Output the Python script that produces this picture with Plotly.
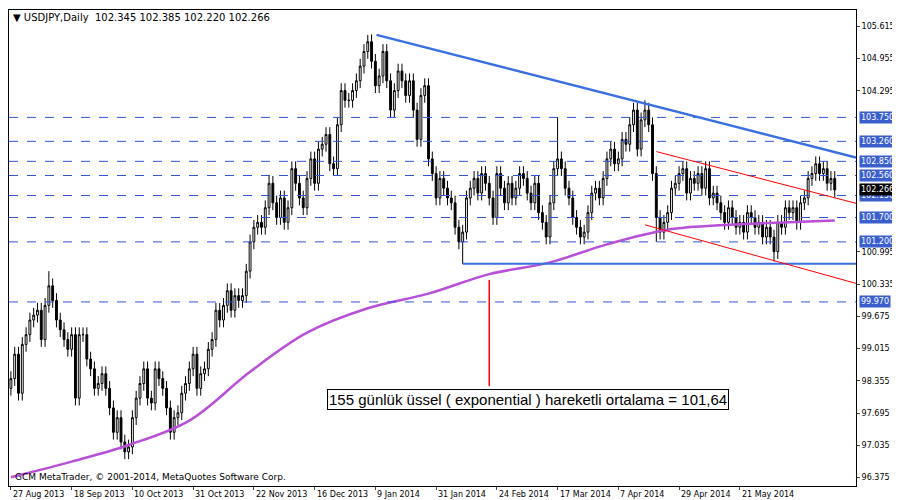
import plotly.graph_objects as go

# daily closes, USDJPY
closes = [
    98.4, 98.9, 98.1, 99.1, 99.3, 99.6, 99.7, 99.8, 99.2, 99.9,
    100.3, 100.0, 99.6, 99.4, 99.2, 99.0, 99.3, 98.0, 99.3, 99.3,
    98.8, 98.6, 98.2, 98.3, 98.5, 98.2, 97.8, 97.3, 97.6, 97.1,
    96.9, 97.0, 97.6, 98.0, 98.3, 98.6, 98.0, 97.9, 98.6, 98.4,
    98.2, 97.8, 97.3, 97.6, 97.7, 98.1, 98.3, 98.6, 98.9, 98.2,
    98.5, 98.6, 99.0, 99.2, 99.8, 99.6, 99.9, 100.2, 99.8, 100.1,
    100.0, 100.1, 100.6, 101.2, 101.5, 101.6, 101.5, 101.9, 102.4, 102.0,
    101.7, 102.1, 101.6, 101.9, 102.7, 102.4, 102.1, 101.9, 102.5, 102.9,
    102.4, 103.1, 103.2, 103.4, 102.8, 102.7, 103.6, 104.3, 104.1, 104.1,
    104.3, 104.5, 104.8, 105.1, 105.3, 104.9, 104.4, 104.6, 105.1, 104.5,
    103.9, 104.3, 104.7, 104.5, 104.2, 104.5, 103.9, 103.3, 104.2, 104.4,
    102.9, 102.6, 102.1, 102.5, 102.3, 102.1, 102.0, 101.5, 101.2, 101.4,
    102.1, 102.3, 102.5, 102.2, 102.6, 102.4, 102.1, 101.7, 102.6, 102.3,
    102.0, 102.4, 102.1, 102.3, 102.6, 102.5, 102.2, 102.0, 102.4, 101.8,
    101.6, 101.3, 102.0, 102.7, 102.9, 102.7, 102.3, 102.1, 101.7, 101.5,
    101.3, 101.4, 101.8, 102.2, 102.3, 102.1, 102.5, 102.9, 103.1, 102.8,
    102.9, 103.3, 103.2, 103.6, 103.9, 103.1, 103.7, 103.9, 103.6, 102.6,
    101.7, 101.4, 101.6, 101.8, 102.3, 102.4, 102.6, 102.7, 102.2, 102.5,
    102.4, 102.6, 102.3, 102.7, 102.1, 102.2, 102.0, 101.8, 101.6, 101.9,
    101.7, 101.5, 101.6, 101.4, 101.8, 101.7, 101.5, 101.6, 101.3, 101.5,
    101.3, 101.0, 101.6, 101.5, 101.9, 101.8, 101.9, 101.6, 102.0, 102.1,
    102.5, 102.6, 102.8, 102.6, 102.7, 102.4, 102.5, 102.266,
]
first_open = 98.2
wick = 0.15
# notable extremes (bar index: price)
high_marks = {10: 100.6, 94: 105.44, 144: 103.75, 167: 104.1, 212: 102.95}
low_marks = {30: 96.75, 119: 100.75, 201: 100.8, 170: 101.2}

# 155 EMA, read at a few bars
ema_x = [0, 16, 31, 47, 63, 78, 94, 110, 126, 142, 157, 173, 189, 205, 217]
ema_y = [96.38, 96.7, 97.04, 97.54, 98.54, 99.34, 99.84, 100.14, 100.54, 100.78,
         101.15, 101.45, 101.55, 101.6, 101.64]

levels = [103.750, 103.260, 102.850, 102.560, 102.150, 101.700, 101.200, 99.970]
axis_ticks = [105.615, 104.955, 104.295, 100.995, 100.335, 99.675, 99.015,
              98.355, 97.695, 97.035, 96.375]
date_labels = ['27 Aug 2013', '18 Sep 2013', '10 Oct 2013', '31 Oct 2013', '22 Nov 2013',
               '16 Dec 2013', '9 Jan 2014', '31 Jan 2014', '24 Feb 2014', '17 Mar 2014',
               '7 Apr 2014', '29 Apr 2014', '21 May 2014']
date_bars = [0, 16, 32, 48, 64, 80, 96, 112, 128, 144, 160, 176, 192]

idx = list(range(len(closes)))
opens = [first_open] + closes[:-1]
highs = [high_marks.get(i, max(o, c) + wick) for i, (o, c) in enumerate(zip(opens, closes))]
lows = [low_marks.get(i, min(o, c) - wick) for i, (o, c) in enumerate(zip(opens, closes))]

fig = go.Figure()
fig.add_trace(go.Candlestick(x=idx, open=opens, high=highs, low=lows, close=closes,
                             increasing=dict(line=dict(color='black', width=1), fillcolor='white'),
                             decreasing=dict(line=dict(color='black', width=1), fillcolor='black'),
                             whiskerwidth=0, showlegend=False, hoverinfo='skip'))
fig.add_trace(go.Scatter(x=ema_x, y=ema_y, mode='lines', line=dict(color='#b84fd8', width=2.5, shape='spline'),
                         showlegend=False, hoverinfo='skip'))

xr = [-0.5, 222.6]
small = dict(color='white', size=8, family='DejaVu Sans')
for lv in levels:
    fig.add_annotation(x=1, xref='paper', y=lv, text=f'{lv:.3f}', showarrow=False, xanchor='left',
                       bgcolor='#3a5fcd', font=small, borderpad=1, xshift=3)
    fig.add_shape(type='line', x0=xr[0], x1=xr[1], y0=lv, y1=lv,
                  line=dict(color='#3355cc', width=1, dash='dash'))
fig.add_annotation(x=1, xref='paper', y=102.266, text='102.266', showarrow=False, xanchor='left',
                   bgcolor='black', font=small, borderpad=1, xshift=3)

# trend lines
fig.add_shape(type='line', x0=96.3, y0=105.44, x1=xr[1], y1=102.93, line=dict(color='#3a6fe0', width=2.5))
fig.add_shape(type='line', x0=119, y0=100.75, x1=xr[1], y1=100.75, line=dict(color='#3a6fe0', width=2))
fig.add_shape(type='line', x0=170, y0=103.05, x1=xr[1], y1=101.99, line=dict(color='red', width=1))
fig.add_shape(type='line', x0=167, y0=101.55, x1=xr[1], y1=100.35, line=dict(color='red', width=1))
fig.add_shape(type='line', x0=126, y0=100.42, x1=126, y1=98.25, line=dict(color='red', width=1.5))

fig.add_annotation(x=0.375, xref='paper', y=97.98, text='155 günlük üssel ( exponential ) hareketli ortalama = 101,64',
                   showarrow=False, xanchor='left', bgcolor='white', bordercolor='black', borderwidth=1,
                   font=dict(size=15, family='Liberation Sans', color='black'), borderpad=1)
fig.add_annotation(x=0.002, xref='paper', y=1, yref='paper', yanchor='top', xanchor='left', showarrow=False,
                   text='▼ USDJPY,Daily  102.345 102.385 102.220 102.266',
                   font=dict(size=10, family='DejaVu Sans', color='black'))
fig.add_annotation(x=0.005, xref='paper', y=0.005, yref='paper', yanchor='bottom', xanchor='left', showarrow=False,
                   text='GCM MetaTrader, © 2001-2014, MetaQuotes Software Corp.',
                   font=dict(size=9, family='DejaVu Sans', color='black'))
for b, lab in zip(date_bars, date_labels):
    fig.add_annotation(x=b, y=0, yref='paper', yanchor='top', xanchor='left', showarrow=False,
                       text=lab, yshift=-2, font=dict(size=8, family='DejaVu Sans', color='black'))

fig.update_layout(
    width=900, height=500, margin=dict(l=1, r=52, t=2, b=22),
    paper_bgcolor='white', plot_bgcolor='white',
    xaxis=dict(range=xr, rangeslider=dict(visible=False), showgrid=False, zeroline=False,
               tickvals=date_bars, ticktext=['' for _ in date_bars], ticks='outside', ticklen=3,
               showline=True, linecolor='black', mirror=True),
    yaxis=dict(range=[96.2, 105.95], side='right', showgrid=False, zeroline=False,
               tickvals=axis_ticks, ticktext=[f'{t:.3f}' for t in axis_ticks], ticks='outside', ticklen=3,
               tickfont=dict(size=8, family='DejaVu Sans', color='black'),
               showline=True, linecolor='black', mirror=True),
)
fig.write_html('out.html')
